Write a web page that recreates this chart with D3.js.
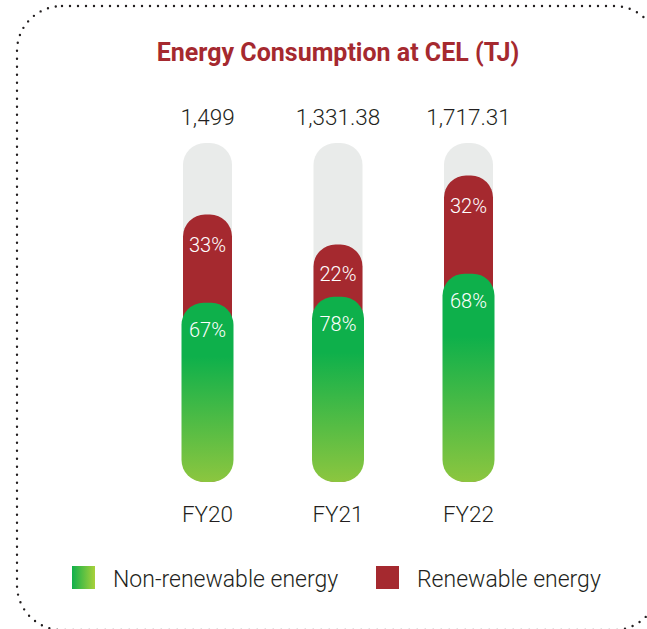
<!DOCTYPE html>
<html>
<head>
<meta charset="utf-8">
<script src="https://cdn.jsdelivr.net/npm/d3@7"></script>
<style>
  body { margin: 0; background: #fff; }
  svg { display: block; }
</style>
</head>
<body>
<script>
// chart data
const years = ["FY20", "FY21", "FY22"];
const totals = [1499, 1331.38, 1717.31];
const totalLabels = ["1,499", "1,331.38", "1,717.31"];
const nonRenewablePct = [67, 78, 68];
const renewablePct = [33, 22, 32];
const trackMax = 1900;
const legendLabels = ["Non-renewable energy", "Renewable energy"];

const width = 647, height = 629;
const red = "#a5292f", ink = "#231f20", track = "#e9ebea";

const svg = d3.select("body").append("svg")
  .attr("width", width)
  .attr("height", height);

const defs = svg.append("defs");
const barGrad = defs.append("linearGradient")
  .attr("id", "greenBar")
  .attr("x1", 0).attr("y1", 0).attr("x2", 0).attr("y2", 1);
barGrad.append("stop").attr("offset", 0).attr("stop-color", "#0eb04b");
barGrad.append("stop").attr("offset", 0.3).attr("stop-color", "#0eb04b");
barGrad.append("stop").attr("offset", 1).attr("stop-color", "#8cc63f");

const legGrad = defs.append("linearGradient")
  .attr("id", "greenLegend")
  .attr("x1", 0).attr("y1", 0).attr("x2", 1).attr("y2", 0);
legGrad.append("stop").attr("offset", 0).attr("stop-color", "#10b04b");
legGrad.append("stop").attr("offset", 1).attr("stop-color", "#a8d13a");

// dotted frame
const fx0 = 17, fy0 = 6, fx1 = 659, fy1 = 630, fr = 45;
svg.append("rect")
  .attr("x", fx0).attr("y", fy0)
  .attr("width", fx1 - fx0).attr("height", fy1 - fy0)
  .attr("rx", fr)
  .attr("fill", "none")
  .attr("stroke", ink)
  .attr("stroke-width", 2.4)
  .attr("stroke-linecap", "round")
  .attr("stroke-dasharray", "0 8");

svg.append("text")
  .attr("x", 338).attr("y", 61)
  .attr("text-anchor", "middle")
  .style("font-family", "Roboto")
  .style("font-weight", 700)
  .style("font-size", "25px")
  .attr("fill", red)
  .text("Energy Consumption at CEL (TJ)");

const x = d3.scalePoint()
  .domain(years)
  .range([207.5, 468.5]);

const y = d3.scaleLinear()
  .domain([0, trackMax])
  .range([482, 143]);

const barW = 49, greenW = 52, radius = 22;

const rows = years.map((yr, i) => ({
  year: yr,
  total: totals[i],
  label: totalLabels[i],
  nonRen: totals[i] * nonRenewablePct[i] / 100,
  nonPct: nonRenewablePct[i],
  renPct: renewablePct[i]
}));

const bars = svg.append("g").selectAll("g")
  .data(rows)
  .join("g")
  .attr("transform", d => `translate(${x(d.year)},0)`);

bars.append("rect")
  .attr("x", -barW / 2).attr("width", barW)
  .attr("y", y(trackMax)).attr("height", y(0) - y(trackMax))
  .attr("rx", radius)
  .attr("fill", track);

bars.append("rect")
  .attr("x", -barW / 2).attr("width", barW)
  .attr("y", d => y(d.total)).attr("height", d => y(0) - y(d.total))
  .attr("rx", radius)
  .attr("fill", red);

bars.append("rect")
  .attr("x", -greenW / 2).attr("width", greenW)
  .attr("y", d => y(d.nonRen)).attr("height", d => y(0) - y(d.nonRen))
  .attr("rx", radius)
  .attr("fill", "url(#greenBar)");

const light = sel => sel
  .attr("text-anchor", "middle")
  .style("font-family", "Roboto")
  .style("font-weight", 300);

bars.append("text").call(light)
  .attr("y", d => y(d.total) + 37)
  .style("font-size", "20px")
  .attr("fill", "#fff")
  .text(d => d.renPct + "%");

bars.append("text").call(light)
  .attr("y", d => y(d.nonRen) + 34)
  .style("font-size", "20px")
  .attr("fill", "#fff")
  .text(d => d.nonPct + "%");

bars.append("text").call(light)
  .attr("y", 125)
  .style("font-size", "22.5px")
  .attr("fill", ink)
  .text(d => d.label);

bars.append("text").call(light)
  .attr("y", 522)
  .style("font-size", "22.5px")
  .attr("fill", ink)
  .text(d => d.year);

// legend
const legend = svg.append("g");
const legX = [72, 376];
const legFill = ["url(#greenLegend)", red];
legendLabels.forEach((lab, i) => {
  legend.append("rect")
    .attr("x", legX[i]).attr("y", 566)
    .attr("width", 23).attr("height", 23)
    .attr("fill", legFill[i]);
  legend.append("text")
    .attr("x", legX[i] + 41).attr("y", 587)
    .style("font-family", "Roboto")
    .style("font-weight", 300)
    .style("font-size", "23px")
    .attr("fill", ink)
    .text(lab);
});
</script>
</body>
</html>
